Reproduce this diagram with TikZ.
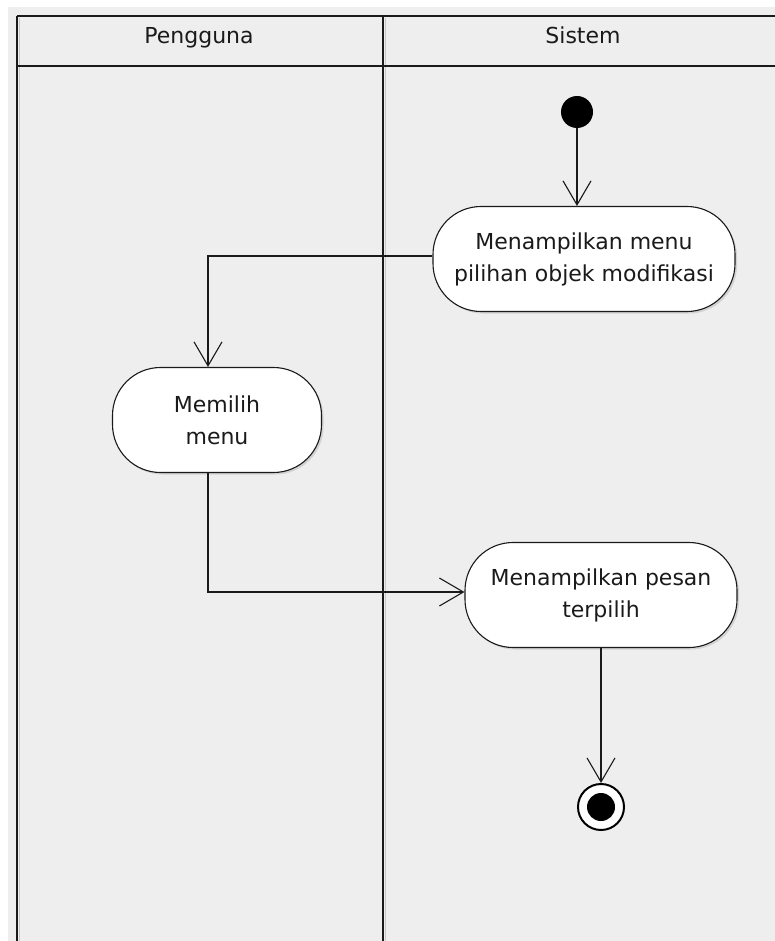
\documentclass[tikz,border=0pt]{standalone}
\usepackage{fontspec}
\setmainfont{DejaVu Sans}
\usetikzlibrary{arrows.meta,shadows}
\definecolor{lanebg}{RGB}{238,238,238}
\definecolor{ink}{RGB}{26,26,26}
\definecolor{shade}{RGB}{200,200,200}
\tikzset{
  lane/.style={draw=ink, line width=1.8pt},
  laneshade/.style={draw=shade, line width=1.4pt},
  actbox/.style={draw=ink, line width=1.1pt, fill=white, rounded corners=48pt,
    minimum height=105pt, align=center, text=ink,
    font=\fontsize{22}{32}\selectfont,
    drop shadow={shadow xshift=2pt, shadow yshift=-2pt, opacity=0.25}},
  startdot/.style={circle, fill=black, minimum size=32pt, inner sep=0pt},
  enddot/.style={circle, draw=black, line width=2pt, fill=white, minimum size=46pt, inner sep=0pt,
    path picture={\fill[black] (path picture bounding box.center) circle (14pt);}},
  flow/.style={draw=ink, line width=1.1pt, -{Straight Barb[length=24pt, width=28pt, line width=1.1pt]}},
  lanetitle/.style={text=ink, font=\fontsize{22}{26}\selectfont, anchor=base}
}
\begin{document}
\begin{tikzpicture}[x=1pt, y=-1pt]
  \useasboundingbox (0,0) rectangle (775,941);
  % canvas
  \fill[white] (0,0) rectangle (775,941);
  \fill[lanebg] (8,7) rectangle (775,941);

  % swimlane frame with its light shadow
  \draw[laneshade] (19.5,18) -- (19.5,941);
  \draw[laneshade] (385.5,18) -- (385.5,941);
  \draw[lane] (17,16) -- (775,16);
  \draw[lane] (17,66) -- (775,66);
  \draw[lane] (17,16) -- (17,941);
  \draw[lane] (383,16) -- (383,941);

  % lane titles
  \node[lanetitle] (tUser) at (199,44) {Pengguna};
  \node[lanetitle] (tSys) at (583,44) {Sistem};

  % activity nodes
  \node[startdot] (start) at (577,112) {};
  \node[actbox, minimum width=302pt] (act1) at (584,259) {Menampilkan menu\\pilihan objek modifikasi};
  \node[actbox, minimum width=209pt] (pilih) at (217,420) {Memilih\\menu};
  \node[actbox, minimum width=272pt] (act2) at (601,595) {Menampilkan pesan\\terpilih};
  \node[enddot] (end) at (601,807) {};

  % control flow
  \draw[flow] (start) -- (start |- act1.north);
  \draw[flow] ([yshift=3pt]act1.west) -| ([xshift=-9pt]pilih.north);
  \draw[flow] ([xshift=-9pt]pilih.south) |- ([yshift=3pt]act2.west);
  \draw[flow] (act2.south) -- (end.north);
\end{tikzpicture}
\end{document}
